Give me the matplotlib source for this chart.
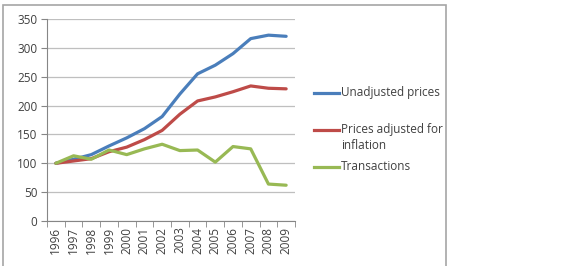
import numpy as np
import matplotlib
matplotlib.use("Agg")
import matplotlib.pyplot as plt
from matplotlib.patches import Rectangle
from matplotlib.lines import Line2D

plt.rcParams['font.family'] = ['Open Sans', 'DejaVu Sans']

years = ['1996', '1997', '1998', '1999', '2000', '2001', '2002',
         '2003', '2004', '2005', '2006', '2007', '2008', '2009']
unadjusted = [100, 107, 115, 130, 144, 160, 181, 220, 255, 270, 290, 316, 322, 320]
adjusted = [100, 104, 108, 120, 128, 141, 157, 185, 208, 215, 224, 234, 230, 229]
transactions = [100, 113, 107, 123, 115, 125, 133, 122, 123, 102, 129, 125, 64, 62]

names = ['Unadjusted prices', 'Prices adjusted for\ninflation', 'Transactions']
colors = ['#4A7EBB', '#BE4B48', '#98B954']
series = [unadjusted, adjusted, transactions]

W, H = 579, 266
fig = plt.figure(figsize=(W / 100, H / 100), dpi=100)
fig.patch.set_facecolor('white')

# outer chart border (runs off the bottom edge like the screenshot)
fig.patches.append(Rectangle((3 / W, -0.2), 443 / W, 1.2 - 5 / H,
                             transform=fig.transFigure, fill=False,
                             edgecolor='#a6a6a6', linewidth=1.2))

ax = fig.add_axes([47 / W, 1 - 221 / H, 248 / W, 202 / H])
x = np.arange(len(years))
for vals, c in zip(series, colors):
    ax.plot(x, vals, color=c, linewidth=2.3, solid_capstyle='round')

ax.set_xlim(-0.5, len(years) - 0.5)
ax.set_ylim(0, 350)
ax.set_yticks(np.arange(0, 351, 50))
ax.set_xticks(x)
ax.set_xticklabels(years, rotation=90, fontsize=8.5, color='#404040')
ax.set_xticks(np.arange(-0.5, len(years), 1), minor=True)
ax.tick_params(axis='x', which='major', length=0, pad=4)
ax.tick_params(axis='x', which='minor', length=4, color='#868686')
ax.tick_params(axis='y', length=4, color='#868686', labelsize=8.5,
               labelcolor='#404040', pad=3)
ax.grid(axis='y', color='#bfbfbf', linewidth=0.9)
ax.set_axisbelow(True)
for s in ['top', 'right']:
    ax.spines[s].set_visible(False)
for s in ['left', 'bottom']:
    ax.spines[s].set_color('#868686')

# legend drawn as in the original, handle level with first text line
leg_y = [93, 130, 167]
for name, c, ly in zip(names, colors, leg_y):
    fig.add_artist(Line2D([314 / W, 339 / W], [1 - ly / H, 1 - ly / H],
                          color=c, linewidth=2.3, transform=fig.transFigure))
    fig.text(341 / W, 1 - (ly - 7) / H, name, fontsize=8.5, color='#404040',
             va='top', ha='left', linespacing=1.3)

fig.savefig('out.png', dpi=100)
